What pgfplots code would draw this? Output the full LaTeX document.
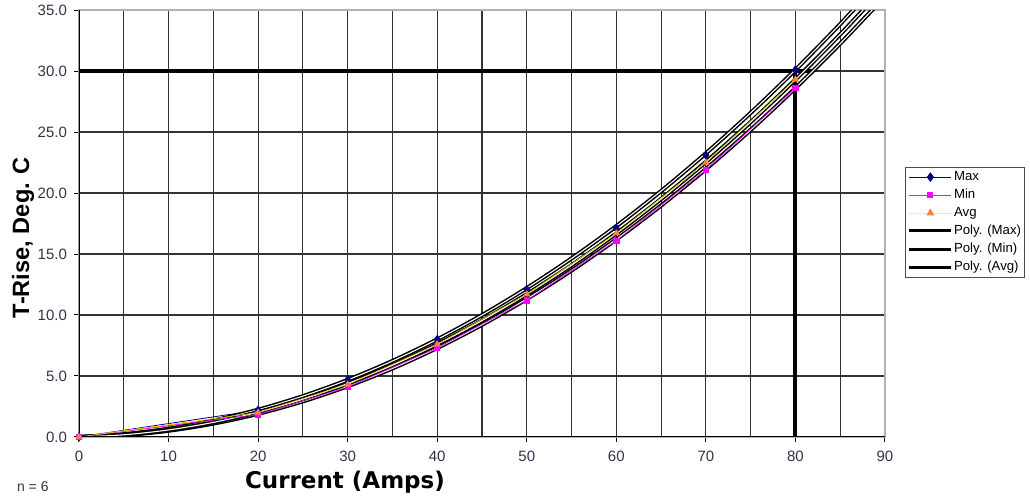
\documentclass[border=0pt]{standalone}
\usepackage{fontspec}
\setmainfont{Liberation Sans}
\newfontfamily\dejavu{DejaVu Sans}
\usepackage{pgfplots}
\pgfplotsset{compat=1.18}
\definecolor{maxc}{RGB}{0,0,128}
\definecolor{minc}{RGB}{255,0,255}
\definecolor{avgl}{RGB}{255,255,0}
\definecolor{avgm}{RGB}{255,128,64}
\definecolor{tickc}{RGB}{50,50,75}
\begin{document}
\begin{tikzpicture}
\begin{axis}[
  at={(0,0)}, anchor=south west,
  scale only axis, width=403pt, height=213.5pt,
  xmin=0, xmax=90, ymin=0, ymax=35,
  xtick={0,10,...,90}, minor xtick={5,15,...,85},
  ytick={0,5,...,35},
  grid=both,
  major grid style={draw=black!80, line width=0.55pt},
  minor grid style={draw=black!80, line width=0.55pt},
  tick align=outside, major tick length=2.5pt, minor tick length=0pt,
  tick style={black, line width=0.5pt},
  tick pos=left,
  axis line style={draw=gray!60, line width=0.6pt},
  /pgf/number format/assume math mode=true,
  ticklabel style={font=\fontsize{7.5}{9}\selectfont, text=tickc},
  y tick label style={/pgf/number format/.cd, fixed, fixed zerofill, precision=1, /tikz/.cd},
  x tick label style={yshift=-1pt},
  xlabel={\dejavu\bfseries Current (Amps)},
  xlabel style={at={(axis description cs:0.33,0)}, anchor=center, yshift=-22.5pt, font=\fontsize{11.5}{13}\selectfont},
  ylabel={T-Rise, Deg. C},
  ylabel style={at={(axis description cs:-0.0695,0.467)}, anchor=center, font=\bfseries\fontsize{11.8}{13}\selectfont},
  legend style={at={(1.0248,0.6323)}, anchor=north west, draw=gray!60!black, line width=0.5pt,
    font=\fontsize{6.6}{8}\selectfont, inner sep=1.2pt, row sep=1.6pt,
    nodes={inner sep=0.6pt}},
  legend cell align=left,
  legend image code/.code={\draw[mark repeat=2,mark phase=2,#1] plot coordinates {(0pt,0pt) (10.5pt,0pt) (21pt,0pt)};},
]
% heavy reference lines
\addplot[black, line width=2pt, forget plot] coordinates {(0,30) (82,30)};
\addplot[black, line width=2pt, forget plot] coordinates {(80,30) (80,0)};
% data series with marks
\addplot[maxc, line width=0.4pt, mark=diamond*, mark size=2pt, mark options={fill=maxc, draw=maxc}, forget plot]
  coordinates {(0,0) (20,2.2) (30,4.7) (40,8.0) (50,12.1) (60,17.1) (70,23.1) (80,30.1)};
\addplot[minc, line width=0.4pt, mark=square*, mark size=1.3pt, mark options={fill=minc, draw=minc}, forget plot]
  coordinates {(0,0) (20,1.85) (30,4.1) (40,7.3) (50,11.2) (60,16.1) (70,21.9) (80,28.6)};
\addplot[avgl, line width=0.4pt, mark=triangle*, mark size=1.7pt, mark options={fill=avgm, draw=avgm}, forget plot]
  coordinates {(0,0) (20,2.0) (30,4.3) (40,7.6) (50,11.7) (60,16.7) (70,22.5) (80,29.3)};
% polynomial trendlines
\addplot[smooth, draw=black, line width=0.75pt, double=white, double distance=0.55pt, forget plot] coordinates {
 (0,0) (5,0.229) (10,0.678) (15,1.348) (20,2.237) (25,3.348) (30,4.678) (35,6.229) (40,8.000)
 (45,9.991) (50,12.203) (55,14.634) (60,17.287) (65,20.159) (70,23.252) (75,26.565) (80,30.098)
 (85,33.852) (90,37.826)};
\addplot[smooth, draw=black, line width=0.75pt, double=white, double distance=0.55pt, forget plot] coordinates {
 (0,0) (5,0.147) (10,0.513) (15,1.097) (20,1.900) (25,2.922) (30,4.163) (35,5.622) (40,7.300)
 (45,9.197) (50,11.313) (55,13.647) (60,16.200) (65,18.972) (70,21.963) (75,25.172) (80,28.600)
 (85,32.247) (90,36.113)};
\addplot[smooth, draw=black, line width=0.75pt, double=white, double distance=0.55pt, forget plot] coordinates {
 (0,0) (5,0.179) (10,0.578) (15,1.198) (20,2.037) (25,3.098) (30,4.378) (35,5.879) (40,7.600)
 (45,9.541) (50,11.703) (55,14.084) (60,16.687) (65,19.509) (70,22.552) (75,25.815) (80,29.298)
 (85,33.002) (90,36.926)};
% thin coloured series lines inside the trendlines
\addplot[minc, line width=0.35pt, forget plot]
  coordinates {(0,0) (20,1.85) (30,4.1) (40,7.3) (50,11.2) (60,16.1) (70,21.9) (80,28.6)};
\addplot[avgl!80!black, line width=0.35pt, forget plot]
  coordinates {(0,0) (20,2.0) (30,4.3) (40,7.6) (50,11.7) (60,16.7) (70,22.5) (80,29.3)};
% black left and bottom axis lines
\draw[black, line width=0.6pt] (rel axis cs:0,1) -- (rel axis cs:0,0) -- (rel axis cs:1,0);
% legend
\addlegendimage{maxc, line width=0.5pt, mark=diamond*, mark size=2pt, mark options={fill=maxc, draw=maxc}}
\addlegendentry{Max}
\addlegendimage{minc, line width=0.5pt, mark=square*, mark size=1.3pt, mark options={fill=minc, draw=minc}}
\addlegendentry{Min}
\addlegendimage{avgl, line width=0.5pt, mark=triangle*, mark size=1.8pt, mark options={fill=avgm, draw=avgm}}
\addlegendentry{Avg}
\addlegendimage{black, line width=1.5pt}
\addlegendentry{Poly. (Max)}
\addlegendimage{black, line width=1.5pt}
\addlegendentry{Poly. (Min)}
\addlegendimage{black, line width=1.5pt}
\addlegendentry{Poly. (Avg)}
\end{axis}
\node[anchor=base west, font=\fontsize{7}{8}\selectfont, text=tickc] at (-34.5pt,-27.5pt) {n = 6};
\pgfresetboundingbox
\path (-39.5pt,-30.5pt) rectangle (475.5pt,218.5pt);
\end{tikzpicture}
\end{document}
